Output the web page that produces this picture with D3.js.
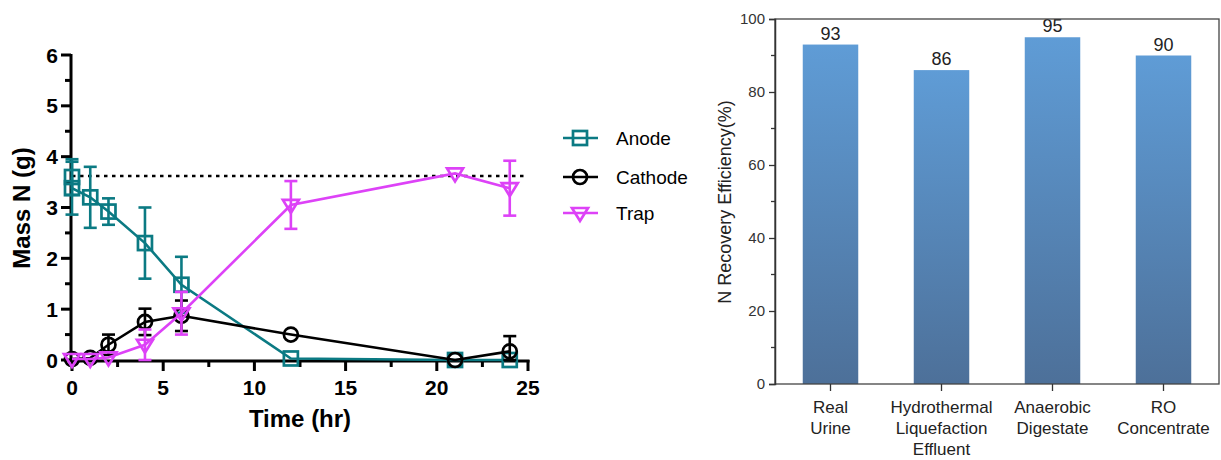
<!DOCTYPE html>
<html>
<head>
<meta charset="utf-8">
<script src="https://cdn.jsdelivr.net/npm/d3@7"></script>
<style>
  body { margin: 0; background: #fff; }
  svg { display: block; font-family: Arial, "Liberation Sans", sans-serif; }
</style>
</head>
<body>
<svg id="chart" width="1221" height="460"></svg>
<script>
// left panel: mass of N over time
var anodeT = [0, 0, 1, 2, 4, 6, 12, 21, 24];
var anodeV = [3.6, 3.38, 3.2, 2.92, 2.3, 1.48, 0.03, 0.0, 0.0];
var anodeE = [0.35, 0.52, 0.6, 0.26, 0.7, 0.55, 0, 0, 0];

var cathodeT = [0, 1, 2, 4, 6, 12, 21, 24];
var cathodeV = [0.02, 0.04, 0.3, 0.75, 0.87, 0.5, 0.0, 0.17];
var cathodeE = [0, 0, 0.2, 0.26, 0.3, 0, 0, 0.3];

var trapT = [0, 1, 2, 4, 6, 12, 21, 24];
var trapV = [0.02, 0.02, 0.05, 0.3, 0.92, 3.05, 3.67, 3.38];
var trapE = [0, 0, 0, 0.3, 0.42, 0.47, 0, 0.54];

var refLevel = 3.62;
var xTicks = [0, 5, 10, 15, 20, 25];
var yTicks = [0, 1, 2, 3, 4, 5, 6];

// right panel: recovery efficiency
var sources = [["Real", "Urine"], ["Hydrothermal", "Liquefaction", "Effluent"], ["Anaerobic", "Digestate"], ["RO", "Concentrate"]];
var recovery = [93, 86, 95, 90];
var effTicks = [0, 20, 40, 60, 80, 100];

var svg = d3.select("#chart");

var teal = "#0b7a83", magenta = "#dd42f7";

var x = d3.scaleLinear().domain([0, 25]).range([72, 528]);
var y = d3.scaleLinear().domain([0, 6]).range([360, 55]);

var left = svg.append("g");

// axes
left.append("line").attr("x1", 71).attr("x2", x(25) + 1.5)
  .attr("y1", y(0) + 1).attr("y2", y(0) + 1)
  .attr("stroke", "#000").attr("stroke-width", 3);
left.append("line").attr("x1", 71).attr("x2", 71)
  .attr("y1", y(6) - 1).attr("y2", y(0) + 2)
  .attr("stroke", "#000").attr("stroke-width", 3);

var xMinor = d3.range(0, 25.1, 2.5);
left.selectAll(".xt").data(xMinor).join("line")
  .attr("x1", d => x(d)).attr("x2", d => x(d))
  .attr("y1", y(0)).attr("y2", d => y(0) + (d % 5 === 0 ? 11 : 7))
  .attr("stroke", "#000").attr("stroke-width", 3);
left.selectAll(".xl").data(xTicks).join("text")
  .attr("x", d => x(d)).attr("y", 395)
  .attr("text-anchor", "middle").attr("font-size", 21).attr("font-weight", "bold")
  .text(d => d);

var yMinor = d3.range(0, 6.01, 0.5);
left.selectAll(".yt").data(yMinor).join("line")
  .attr("y1", d => y(d)).attr("y2", d => y(d))
  .attr("x1", 71).attr("x2", d => 71 - (d % 1 === 0 ? 10 : 6))
  .attr("stroke", "#000").attr("stroke-width", 3);
left.selectAll(".yl").data(yTicks).join("text")
  .attr("x", 58).attr("y", d => y(d) + 7.5)
  .attr("text-anchor", "end").attr("font-size", 21).attr("font-weight", "bold")
  .text(d => d);

left.append("text").attr("transform", "translate(30,208) rotate(-90)")
  .attr("text-anchor", "middle").attr("font-size", 24).attr("font-weight", "bold")
  .text("Mass N (g)");
left.append("text").attr("x", 300).attr("y", 427)
  .attr("text-anchor", "middle").attr("font-size", 24).attr("font-weight", "bold")
  .text("Time (hr)");

// reference line
left.append("line").attr("x1", x(0)).attr("x2", x(25))
  .attr("y1", y(refLevel)).attr("y2", y(refLevel))
  .attr("stroke", "#000").attr("stroke-width", 2.5).attr("stroke-dasharray", "3.5,4.5");

var series = [
  {name: "Anode", t: anodeT, v: anodeV, e: anodeE, color: teal, shape: "square"},
  {name: "Cathode", t: cathodeT, v: cathodeV, e: cathodeE, color: "#000", shape: "circle"},
  {name: "Trap", t: trapT, v: trapV, e: trapE, color: magenta, shape: "triangle"}
];

var marker = function (sel, s) {
  if (s.shape === "square") {
    sel.append("rect").attr("x", -7).attr("y", -7).attr("width", 14).attr("height", 14)
      .attr("fill", "none").attr("stroke", s.color).attr("stroke-width", 2.7);
  } else if (s.shape === "circle") {
    sel.append("circle").attr("r", 7)
      .attr("fill", "none").attr("stroke", s.color).attr("stroke-width", 2.7);
  } else {
    sel.append("path").attr("d", "M-8,-5L8,-5L0,8Z")
      .attr("fill", "none").attr("stroke", s.color).attr("stroke-width", 2.7)
      .attr("stroke-linejoin", "miter");
  }
};

var line = d3.line().x(d => x(d[0])).y(d => y(d[1]));

series.forEach(function (s) {
  var pts = s.t.map((t, i) => [t, s.v[i], s.e[i]]);
  var g = left.append("g");
  g.append("path").datum(pts).attr("d", line)
    .attr("fill", "none").attr("stroke", s.color).attr("stroke-width", 2.6);
  var eb = g.selectAll(".err").data(pts.filter(d => d[2] > 0)).join("g")
    .attr("stroke", s.color).attr("stroke-width", 2.6);
  eb.append("line").attr("x1", d => x(d[0])).attr("x2", d => x(d[0]))
    .attr("y1", d => y(d[1] + d[2])).attr("y2", d => y(Math.max(0, d[1] - d[2])));
  eb.append("line").attr("x1", d => x(d[0]) - 6.5).attr("x2", d => x(d[0]) + 6.5)
    .attr("y1", d => y(d[1] + d[2])).attr("y2", d => y(d[1] + d[2]));
  eb.append("line").attr("x1", d => x(d[0]) - 6.5).attr("x2", d => x(d[0]) + 6.5)
    .attr("y1", d => y(Math.max(0, d[1] - d[2]))).attr("y2", d => y(Math.max(0, d[1] - d[2])));
  g.selectAll(".pt").data(pts).join("g")
    .attr("transform", d => "translate(" + x(d[0]) + "," + y(d[1]) + ")")
    .each(function () { marker(d3.select(this), s); });
});

// legend
var legend = left.selectAll(".leg").data(series).join("g")
  .attr("transform", (d, i) => "translate(580," + [138, 177, 213][i] + ")");
legend.append("line").attr("x1", -17).attr("x2", 18)
  .attr("stroke", d => d.color).attr("stroke-width", 2.6);
legend.each(function (s) { marker(d3.select(this), s); });
legend.append("text").attr("x", 36).attr("y", 7)
  .attr("font-size", 19).attr("fill", "#000").text(d => d.name);

// right panel
var right = svg.append("g");
var defs = svg.append("defs");
var grad = defs.append("linearGradient").attr("id", "barGrad")
  .attr("x1", 0).attr("y1", 0).attr("x2", 0).attr("y2", 1);
grad.append("stop").attr("offset", "0%").attr("stop-color", "#5f9cd6");
grad.append("stop").attr("offset", "100%").attr("stop-color", "#4d7099");

var xb = d3.scaleBand().domain(d3.range(recovery.length)).range([775, 1219])
  .paddingInner(0.5).paddingOuter(0.25);
var yb = d3.scaleLinear().domain([0, 100]).range([384, 19]);

right.selectAll(".bar").data(recovery).join("rect")
  .attr("x", (d, i) => xb(i)).attr("width", xb.bandwidth())
  .attr("y", d => yb(d)).attr("height", d => yb(0) - yb(d))
  .attr("fill", "url(#barGrad)");

right.selectAll(".val").data(recovery).join("text")
  .attr("x", (d, i) => xb(i) + xb.bandwidth() / 2).attr("y", d => yb(d) - 5)
  .attr("text-anchor", "middle").attr("font-size", 18).attr("fill", "#222")
  .text(d => d);

// frame
right.append("rect").attr("x", 775).attr("y", yb(100)).attr("width", 1219 - 775)
  .attr("height", yb(0) - yb(100)).attr("fill", "none").attr("stroke", "#444").attr("stroke-width", 1.3);

var yAxis = d3.axisLeft(yb).tickValues(effTicks).tickSize(6).tickPadding(4);
var ya = right.append("g").attr("transform", "translate(775,0)").call(yAxis);
ya.select(".domain").attr("stroke", "#333").attr("stroke-width", 1.5);
ya.selectAll(".tick line").attr("stroke", "#333").attr("stroke-width", 1.3);
ya.selectAll("text").attr("font-size", 15).attr("fill", "#333").attr("font-family", "Arial, 'Liberation Sans', sans-serif");
right.selectAll(".ymin").data(d3.range(10, 100, 20)).join("line")
  .attr("x1", 775).attr("x2", 771).attr("y1", d => yb(d)).attr("y2", d => yb(d))
  .attr("stroke", "#333").attr("stroke-width", 1.3);

right.selectAll(".xtk").data(recovery).join("line")
  .attr("x1", (d, i) => xb(i) + xb.bandwidth() / 2).attr("x2", (d, i) => xb(i) + xb.bandwidth() / 2)
  .attr("y1", yb(0)).attr("y2", yb(0) + 7)
  .attr("stroke", "#333").attr("stroke-width", 1.3);

var cat = right.selectAll(".cat").data(sources).join("text")
  .attr("text-anchor", "middle").attr("font-size", 17).attr("fill", "#222");
cat.each(function (lines, i) {
  d3.select(this).selectAll("tspan").data(lines).join("tspan")
    .attr("x", xb(i) + xb.bandwidth() / 2).attr("y", (d, j) => 413 + j * 21)
    .text(d => d);
});

right.append("text").attr("transform", "translate(731,202) rotate(-90)")
  .attr("text-anchor", "middle").attr("font-size", 18).attr("fill", "#222")
  .text("N Recovery Efficiency(%)");
</script>
</body>
</html>
